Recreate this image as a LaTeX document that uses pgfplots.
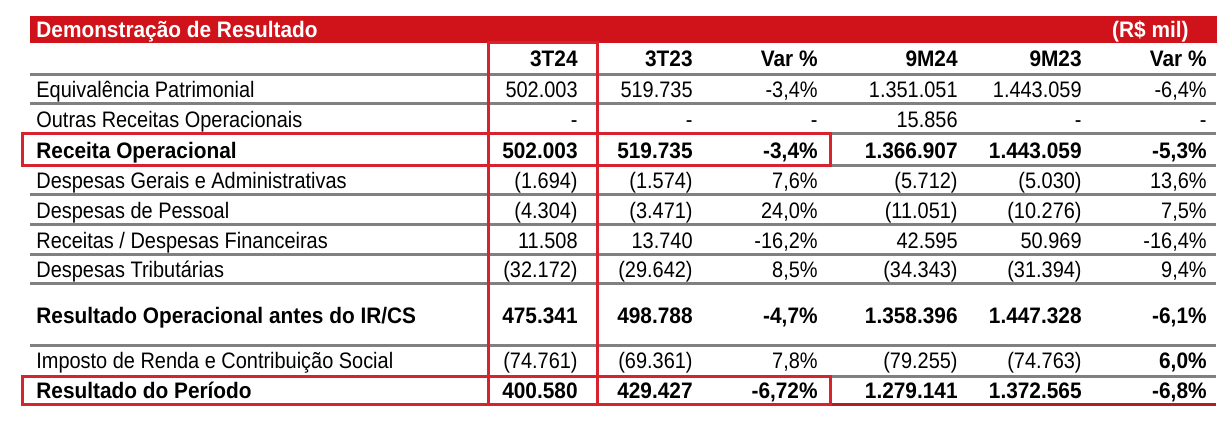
\documentclass[border=0pt]{standalone}
\usepackage{pgfplots}
\pgfplotsset{compat=1.18}
\usepackage{fontspec}
\setmainfont{Liberation Sans}[FakeStretch=0.89,BoldFeatures={FakeStretch=0.93}]
\definecolor{hdrred}{RGB}{208,18,26}
\definecolor{boxred}{RGB}{214,35,45}
\definecolor{botred}{RGB}{178,30,40}
\definecolor{lgray}{RGB}{128,128,128}
\newcommand\fs{\fontsize{11.2}{13}\selectfont}
\newcommand\row[9]{%
  \node[lab,font=#9] at (axis cs:36,#1+2) {#2};
  \node[num,font=#9] at (axis cs:578,#1+2) {#3};
  \node[num,font=#9] at (axis cs:693,#1+2) {#4};
  \node[num,font=#9] at (axis cs:818,#1+2) {#5};
  \node[num,font=#9] at (axis cs:958,#1+2) {#6};
  \node[num,font=#9] at (axis cs:1082,#1+2) {#7};
  \node[num,font=#9] at (axis cs:1207,#1+2) {#8};
}
\newcommand\grule[1]{\draw[lgray,line width=1.5pt] (axis cs:30,#1) -- (axis cs:1216,#1);}
\begin{document}
\begin{tikzpicture}[
  lab/.style={anchor=mid west,inner sep=0pt},
  num/.style={anchor=mid east,inner sep=0pt}]
\begin{axis}[width=615.5pt,height=210.5pt,scale only axis,
  xmin=0,xmax=1231,ymin=0,ymax=421,y dir=reverse,
  axis lines=none,ticks=none,clip=false]
\path (axis cs:0,0) -- (axis cs:1231,421);
% header bar
\fill[hdrred] (axis cs:30,16) rectangle (axis cs:1217,43);
\node[lab,text=white,font=\fs\bfseries] at (axis cs:36,32) {Demonstração de Resultado};
\node[num,text=white,font=\fs\bfseries] at (axis cs:1189,32) {(R\$ mil)};
% gray rules
\grule{75}\grule{104}\grule{134}\grule{166}\grule{195}\grule{225}\grule{255}\grule{284}\grule{346}\grule{377}
\draw[botred,line width=1.5pt] (axis cs:30,405) -- (axis cs:1216,405);
% column headers
\row{59}{}{\bfseries 3T24}{\bfseries 3T23}{\bfseries Var \%}{\bfseries 9M24}{\bfseries 9M23}{\bfseries Var \%}{\fs}
% rows
\row{90}{Equivalência Patrimonial}{502.003}{519.735}{-3,4\%}{1.351.051}{1.443.059}{-6,4\%}{\fs}
\row{120}{Outras Receitas Operacionais}{-}{-}{-}{15.856}{-}{-}{\fs}
\row{151}{Receita Operacional}{502.003}{519.735}{-3,4\%}{1.366.907}{1.443.059}{-5,3\%}{\fs\bfseries}
\row{181}{Despesas Gerais e Administrativas}{(1.694)}{(1.574)}{7,6\%}{(5.712)}{(5.030)}{13,6\%}{\fs}
\row{211}{Despesas de Pessoal}{(4.304)}{(3.471)}{24,0\%}{(11.051)}{(10.276)}{7,5\%}{\fs}
\row{241}{Receitas / Despesas Financeiras}{11.508}{13.740}{-16,2\%}{42.595}{50.969}{-16,4\%}{\fs}
\row{270}{Despesas Tributárias}{(32.172)}{(29.642)}{8,5\%}{(34.343)}{(31.394)}{9,4\%}{\fs}
\row{316}{Resultado Operacional antes do IR/CS}{475.341}{498.788}{-4,7\%}{1.358.396}{1.447.328}{-6,1\%}{\fs\bfseries}
\row{361}{Imposto de Renda e Contribuição Social}{(74.761)}{(69.361)}{7,8\%}{(79.255)}{(74.763)}{\textbf{6,0\%}}{\fs}
\row{391}{Resultado do Período}{400.580}{429.427}{-6,72\%}{1.279.141}{1.372.565}{-6,8\%}{\fs\bfseries}
% red boxes
\draw[boxred,line width=1.5pt] (axis cs:488,43) rectangle (axis cs:597,405);
\draw[boxred,line width=1.5pt] (axis cs:22,134) rectangle (axis cs:830,166);
\draw[boxred,line width=1.5pt] (axis cs:22,377) rectangle (axis cs:830,405);
\end{axis}
\end{tikzpicture}
\end{document}
